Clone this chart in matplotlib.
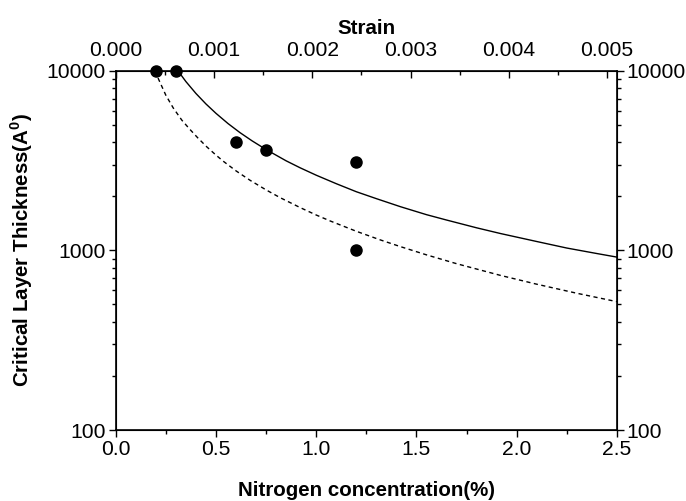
import numpy as np
import matplotlib
matplotlib.use("Agg")
import matplotlib.pyplot as plt
from matplotlib.ticker import FixedLocator, MultipleLocator, LogLocator, NullFormatter

plt.rcParams['font.family'] = ['Liberation Sans', 'DejaVu Sans']
plt.rcParams['mathtext.fontset'] = 'custom'
plt.rcParams['mathtext.rm'] = 'Liberation Sans'
plt.rcParams['mathtext.bf'] = 'Liberation Sans:bold'

# -------------------------
# dados
# -------------------------
nitrogen = [0.2, 0.3, 0.6, 0.75, 1.2, 1.2]
thickness = [10000, 10000, 4000, 3600, 3100, 1000]

# curva cheia
solid_x = [0.31, 0.35, 0.4, 0.45, 0.5, 0.56, 0.62, 0.68, 0.75, 0.85, 0.92, 1.0,
           1.1, 1.2, 1.3, 1.42, 1.55, 1.65, 1.8, 1.92, 2.1, 2.25, 2.4, 2.5]
solid_y = [10000, 8700, 7470, 6530, 5790, 5080, 4520, 4070, 3640, 3150, 2880, 2620,
           2350, 2120, 1940, 1750, 1580, 1475, 1335, 1240, 1120, 1030, 960, 917]

# curva tracejada
dash_x = [0.2, 0.213, 0.25, 0.287, 0.33, 0.371, 0.41, 0.454, 0.5, 0.537, 0.6, 0.67,
          0.75, 0.82, 0.92, 1.0, 1.07, 1.2, 1.32, 1.42, 1.55, 1.7, 1.92, 2.1, 2.3, 2.5]
dash_y = [10000, 9000, 7300, 6200, 5300, 4700, 4220, 3770, 3390, 3130, 2770, 2455,
          2170, 1965, 1730, 1573, 1457, 1277, 1143, 1049, 944, 843, 725, 648, 577, 518]

x_ticks = [0.0, 0.5, 1.0, 1.5, 2.0, 2.5]
y_ticks = [100, 1000, 10000]
strain_ticks = [0.000, 0.001, 0.002, 0.003, 0.004, 0.005]
strain_max = 0.0051

# -------------------------
# figura
# -------------------------
fig = plt.figure(figsize=(6.86, 5.01), dpi=100)
ax = fig.add_axes([0.1687, 0.1417, 0.7306, 0.7172])

ax.plot(solid_x, solid_y, color='black', lw=1.0)
ax.plot(dash_x, dash_y, color='black', lw=1.0, linestyle=(0, (3, 2.5)))
ax.plot(nitrogen, thickness, 'o', color='black', markersize=8, clip_on=False, zorder=5)

ax.set_yscale('log')
ax.set_xlim(0, 2.5)
ax.set_ylim(100, 10000)

ax.xaxis.set_major_locator(FixedLocator(x_ticks))
ax.xaxis.set_minor_locator(MultipleLocator(0.25))
ax.set_xticklabels([f"{v:.1f}" for v in x_ticks])
ax.yaxis.set_major_locator(FixedLocator(y_ticks))
ax.yaxis.set_minor_locator(LogLocator(base=10, subs=np.arange(2, 10)))
ax.yaxis.set_minor_formatter(NullFormatter())
ax.set_yticklabels([str(v) for v in y_ticks])

ax.tick_params(axis='x', which='both', direction='out', top=False, labelsize=15.2, pad=2)
ax.tick_params(axis='x', which='major', length=5, width=1)
ax.tick_params(axis='x', which='minor', length=3, width=1)
ax.tick_params(axis='y', which='both', direction='out', left=True, right=True,
               labelright=True, labelsize=15.2, pad=2)
ax.tick_params(axis='y', which='major', length=5, width=1)
ax.tick_params(axis='y', which='minor', length=3, width=1)

for s in ax.spines.values():
    s.set_linewidth(1.2)

ax.set_xlabel("Nitrogen concentration(%)", fontsize=14.8, fontweight='bold', va='baseline')
ax.xaxis.set_label_coords(0.5, -0.1837)
ax.set_ylabel(r"Critical Layer Thickness(A$^{\mathbf{0}}$)", fontsize=14.8,
              fontweight='bold')
ax.yaxis.set_label_coords(-0.161, 0.5)

# eixo de cima: strain
top = ax.twiny()
top.set_xlim(0, strain_max)
top.xaxis.set_major_locator(FixedLocator(strain_ticks))
top.xaxis.set_minor_locator(MultipleLocator(0.0005))
top.set_xticklabels([f"{v:.3f}" for v in strain_ticks])
top.tick_params(axis='x', which='both', direction='in', labelsize=15.2, pad=7.5)
top.tick_params(axis='x', which='major', length=5, width=1)
top.tick_params(axis='x', which='minor', length=3, width=1)
top.set_xlabel("Strain", fontsize=14.8, fontweight='bold', labelpad=5)

plt.savefig("out.png", dpi=100)
